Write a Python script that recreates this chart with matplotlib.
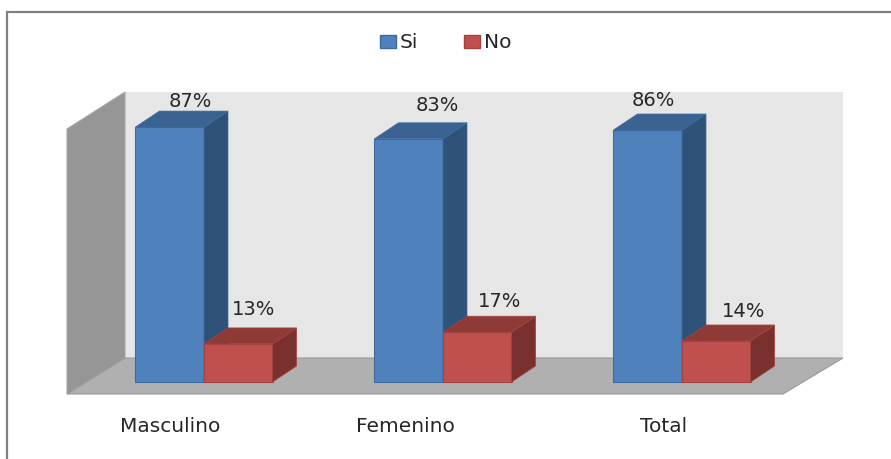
import matplotlib
matplotlib.use('Agg')
import matplotlib.pyplot as plt
from matplotlib.patches import Polygon, Patch

# Datos del grafico
categorias = ['Masculino', 'Femenino', 'Total']
si = [87, 83, 86]
no = [13, 17, 14]

W, H = 891, 459
PX_POR_CAT = 239.0
PX_POR_PCT = 2.93

# Desplazamiento del texto respecto a la barra (pixeles)
off_si = [(21, 26), (29, 33), (6, 30)]
off_no = [(15, 34), (22, 31), (27, 29)]
off_cat = [-34, -38, -18]

# Colores (frente, lateral, arriba, borde)
azul = ('#4F81BD', '#2F5279', '#3A6391', '#3E6A9E')
rojo = ('#C0504D', '#7A302E', '#8E3B38', '#A5423F')
texto = '#262626'

fig = plt.figure(figsize=(W / 100, H / 100), dpi=100, facecolor='white')

# Fondo en pixeles: marco, paredes y piso
bg = fig.add_axes([0, 0, 1, 1])
bg.set_xlim(0, W)
bg.set_ylim(H, 0)
bg.axis('off')
bg.plot([7, 7, W], [H, 12, 12], color='#808080', lw=1.6, solid_joinstyle='miter')
bg.add_patch(Polygon([(125, 92), (843, 92), (843, 358), (125, 358)], fc='#E6E6E6', ec='none'))
bg.add_patch(Polygon([(67, 129), (125, 92), (125, 358), (67, 394)], fc='#969696', ec='#A6A6A6', lw=0.8))
bg.add_patch(Polygon([(125, 358), (843, 358), (783, 394), (67, 394)], fc='#B0B0B0', ec='#999999', lw=0.8))

# Ejes de las barras
x0 = 204 - 0.5 * PX_POR_CAT
ax = fig.add_axes([x0 / W, (H - 382) / H, 3 * PX_POR_CAT / W, 100 * PX_POR_PCT / H])
ax.patch.set_alpha(0)
ax.set_xlim(-0.5, 2.5)
ax.set_ylim(0, 100)
ax.axis('off')

ancho = 0.287
dx = 24 / PX_POR_CAT
dy = 16 / PX_POR_PCT


def barra3d(x, v, col):
    ax.bar(x, v, ancho, align='edge', color=col[0], edgecolor=col[3], linewidth=0.8, clip_on=False)
    ax.add_patch(Polygon([(x + ancho, 0), (x + ancho + dx, dy), (x + ancho + dx, v + dy), (x + ancho, v)],
                         fc=col[1], ec=col[3], lw=0.5, clip_on=False))
    ax.add_patch(Polygon([(x, v), (x + dx, v + dy), (x + ancho + dx, v + dy), (x + ancho, v)],
                         fc=col[2], ec=col[3], lw=0.5, clip_on=False))


for i in range(len(categorias)):
    barra3d(i - ancho, si[i], azul)
    barra3d(i, no[i], rojo)
    ax.annotate(f'{si[i]}%', (i - ancho / 2, si[i]), xytext=off_si[i], textcoords='offset pixels',
                ha='center', va='center', fontsize=14, color=texto, annotation_clip=False)
    ax.annotate(f'{no[i]}%', (i + ancho / 2, no[i]), xytext=off_no[i], textcoords='offset pixels',
                ha='center', va='center', fontsize=14, color=texto, annotation_clip=False)
    ax.annotate(categorias[i], (i, 0), xytext=(off_cat[i], -45), textcoords='offset pixels',
                ha='center', va='center', fontsize=14.5, color=texto, annotation_clip=False)

handles = [Patch(fc=azul[0], ec=azul[3], label='Si'), Patch(fc=rojo[0], ec=rojo[3], label='No')]
bg.legend(handles=handles, ncol=2, loc='center', bbox_to_anchor=(445.5 / W, 1 - 43 / H),
          frameon=False, fontsize=14.5, handlelength=0.8, handleheight=0.6, handletextpad=0.2,
          columnspacing=2.25, labelcolor=texto)

fig.savefig('out.png', dpi=100)
